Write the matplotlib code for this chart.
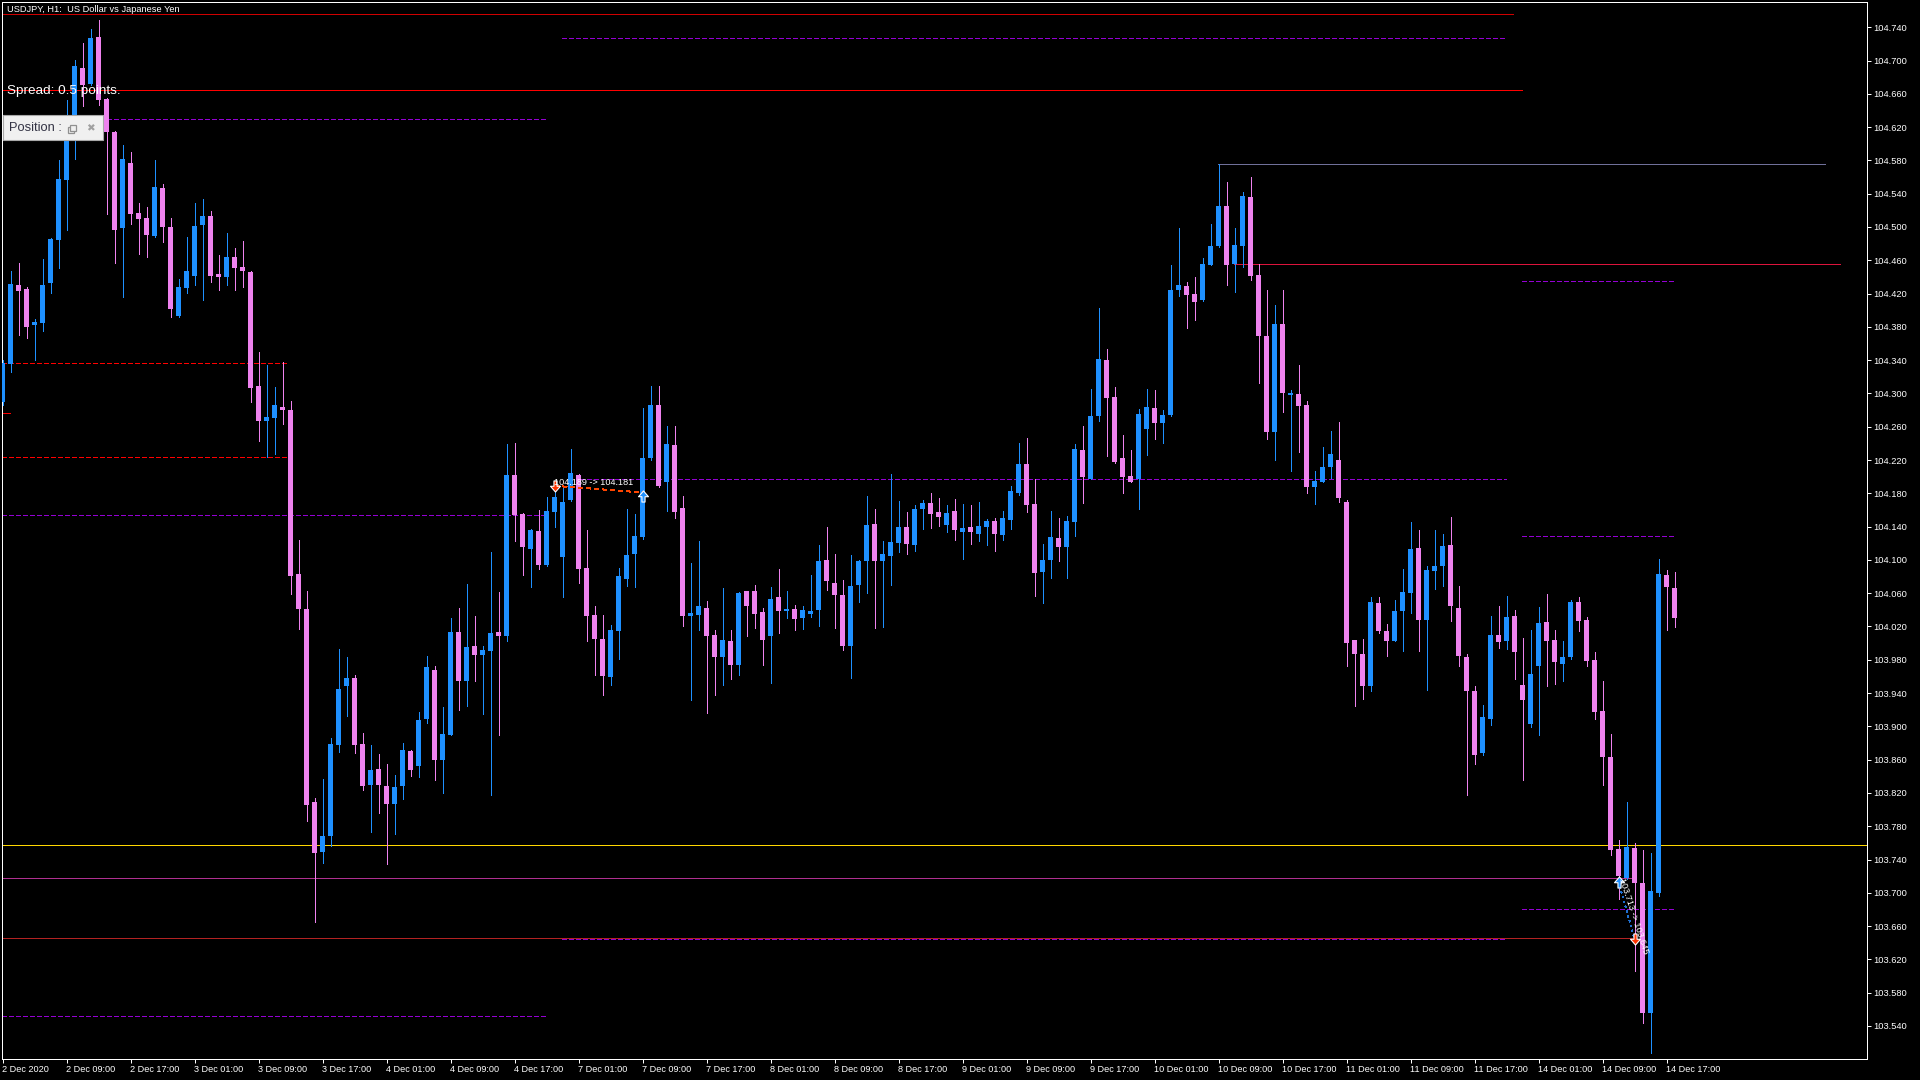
import matplotlib
matplotlib.use('Agg')
import matplotlib.pyplot as plt
from matplotlib import font_manager
from matplotlib.patches import Rectangle
from matplotlib.path import Path
import numpy as np

# ---------------- data ----------------
opens = [104.290, 104.335, 104.430, 104.425, 104.382, 104.385, 104.433, 104.484, 104.556, 104.619,
         104.691, 104.672, 104.728, 104.654, 104.614, 104.499, 104.577, 104.517, 104.511, 104.489,
         104.547, 104.500, 104.393, 104.427, 104.441, 104.502, 104.513, 104.443, 104.440, 104.464,
         104.452, 104.446, 104.309, 104.267, 104.270, 104.284, 104.280, 104.083, 104.041, 103.809,
         103.749, 103.768, 103.878, 103.948, 103.958, 103.879, 103.830, 103.849, 103.828, 103.807,
         103.828, 103.870, 103.852, 103.909, 103.968, 103.860, 103.890, 104.013, 103.955, 103.997,
         103.986, 103.991, 104.013, 104.009, 104.202, 104.155, 104.113, 104.135, 104.094, 104.158,
         104.103, 104.172, 104.202, 104.090, 104.034, 104.005, 103.959, 104.015, 104.077, 104.107,
         104.128, 104.222, 104.286, 104.193, 104.238, 104.162, 104.033, 104.034, 104.042, 104.010,
         103.983, 104.003, 103.974, 104.063, 104.063, 104.037, 104.009, 104.055, 104.039, 104.041,
         104.030, 104.035, 104.040, 104.100, 104.072, 104.058, 103.997, 104.070, 104.099, 104.143,
         104.099, 104.105, 104.120, 104.139, 104.118, 104.161, 104.168, 104.157, 104.142, 104.159,
         104.134, 104.140, 104.131, 104.140, 104.147, 104.130, 104.148, 104.180, 104.215, 104.167,
         104.086, 104.100, 104.126, 104.115, 104.146, 104.232, 104.197, 104.273, 104.340, 104.296,
         104.222, 104.201, 104.197, 104.257, 104.283, 104.264, 104.274, 104.424, 104.429, 104.420,
         104.412, 104.454, 104.477, 104.525, 104.456, 104.477, 104.536, 104.442, 104.369, 104.254,
         104.384, 104.298, 104.299, 104.286, 104.188, 104.194, 104.212, 104.220, 104.170, 104.004,
         103.987, 103.948, 104.048, 104.015, 104.003, 104.039, 104.060, 104.114, 104.028, 104.087,
         104.093, 104.118, 104.042, 103.983, 103.942, 103.868, 103.909, 104.010, 104.002, 104.033,
         103.950, 103.903, 103.972, 104.025, 104.004, 103.975, 103.983, 104.049, 104.028, 103.980,
         103.918, 103.863, 103.753, 103.718, 103.754, 103.712, 103.556, 103.700, 104.082, 104.066]
highs = [104.340, 104.447, 104.457, 104.428, 104.389, 104.461, 104.487, 104.580, 104.653, 104.701,
         104.721, 104.738, 104.749, 104.655, 104.615, 104.598, 104.590, 104.529, 104.524, 104.580,
         104.552, 104.511, 104.437, 104.488, 104.529, 104.534, 104.519, 104.466, 104.493, 104.475,
         104.483, 104.447, 104.350, 104.334, 104.308, 104.338, 104.291, 104.124, 104.063, 103.814,
         103.837, 103.886, 103.993, 103.983, 103.962, 103.892, 103.878, 103.867, 103.855, 103.842,
         103.880, 103.871, 103.917, 103.985, 103.972, 103.923, 104.030, 104.042, 104.071, 104.033,
         103.997, 104.109, 104.061, 104.239, 104.240, 104.156, 104.137, 104.160, 104.176, 104.189,
         104.187, 104.233, 104.203, 104.136, 104.045, 104.034, 104.022, 104.090, 104.161, 104.155,
         104.282, 104.309, 104.309, 104.261, 104.261, 104.177, 104.096, 104.123, 104.051, 104.016,
         104.066, 104.016, 104.061, 104.063, 104.070, 104.042, 104.067, 104.089, 104.063, 104.046,
         104.045, 104.082, 104.118, 104.140, 104.107, 104.076, 104.106, 104.100, 104.177, 104.161,
         104.123, 104.203, 104.171, 104.158, 104.166, 104.172, 104.180, 104.174, 104.166, 104.173,
         104.167, 104.166, 104.170, 104.149, 104.150, 104.159, 104.189, 104.240, 104.246, 104.197,
         104.119, 104.159, 104.150, 104.153, 104.239, 104.261, 104.305, 104.403, 104.353, 104.308,
         104.250, 104.232, 104.281, 104.305, 104.304, 104.280, 104.454, 104.499, 104.434, 104.440,
         104.463, 104.504, 104.576, 104.554, 104.499, 104.542, 104.560, 104.456, 104.424, 104.406,
         104.424, 104.304, 104.334, 104.291, 104.207, 104.236, 104.255, 104.266, 104.172, 104.004,
         104.005, 104.055, 104.055, 104.023, 104.052, 104.089, 104.146, 104.136, 104.093, 104.136,
         104.131, 104.151, 104.069, 103.987, 103.948, 103.926, 104.033, 104.045, 104.057, 104.040,
         104.006, 104.016, 104.043, 104.059, 104.016, 104.003, 104.052, 104.055, 104.031, 103.989,
         103.954, 103.891, 103.764, 103.809, 103.760, 103.751, 103.748, 104.101, 104.088, 104.085]
lows = [104.286, 104.326, 104.370, 104.367, 104.340, 104.375, 104.421, 104.451, 104.496, 104.582,
        104.645, 104.670, 104.647, 104.515, 104.457, 104.416, 104.504, 104.467, 104.464, 104.488,
        104.482, 104.392, 104.392, 104.421, 104.430, 104.412, 104.434, 104.424, 104.430, 104.424,
        104.428, 104.290, 104.243, 104.224, 104.227, 104.263, 104.059, 104.017, 103.786, 103.665,
        103.736, 103.756, 103.869, 103.913, 103.868, 103.824, 103.773, 103.796, 103.735, 103.771,
        103.813, 103.840, 103.839, 103.904, 103.836, 103.820, 103.889, 103.920, 103.925, 103.954,
        103.915, 103.818, 103.890, 104.002, 104.123, 104.082, 104.067, 104.089, 104.093, 104.140,
        104.055, 104.171, 104.072, 104.003, 103.962, 103.938, 103.950, 103.981, 104.069, 104.067,
        104.125, 104.220, 104.188, 104.159, 104.150, 104.020, 103.932, 104.016, 103.916, 103.938,
        103.950, 103.957, 103.962, 104.009, 104.018, 103.974, 103.952, 104.012, 104.030, 104.016,
        104.017, 104.031, 104.021, 104.064, 104.018, 103.992, 103.958, 104.049, 104.060, 104.018,
        104.019, 104.070, 104.110, 104.107, 104.111, 104.137, 104.138, 104.141, 104.134, 104.124,
        104.101, 104.119, 104.123, 104.118, 104.111, 104.124, 104.137, 104.178, 104.158, 104.057,
        104.048, 104.078, 104.099, 104.078, 104.129, 104.168, 104.197, 104.267, 104.225, 104.217,
        104.180, 104.194, 104.161, 104.226, 104.245, 104.240, 104.273, 104.417, 104.379, 104.388,
        104.411, 104.454, 104.476, 104.430, 104.422, 104.452, 104.436, 104.312, 104.245, 104.220,
        104.278, 104.207, 104.230, 104.180, 104.167, 104.194, 104.198, 104.169, 103.972, 103.924,
        103.933, 103.943, 104.012, 103.985, 104.002, 103.991, 104.036, 103.991, 103.944, 104.065,
        104.069, 104.026, 103.972, 103.818, 103.855, 103.866, 103.902, 103.994, 103.993, 103.957,
        103.836, 103.899, 103.889, 103.949, 103.951, 103.955, 103.981, 104.015, 103.972, 103.909,
        103.830, 103.746, 103.692, 103.717, 103.606, 103.543, 103.508, 103.696, 104.016, 104.019]
closes = [104.337, 104.431, 104.423, 104.380, 104.386, 104.430, 104.486, 104.558, 104.619, 104.693,
          104.671, 104.727, 104.653, 104.614, 104.496, 104.582, 104.516, 104.510, 104.490, 104.548,
          104.500, 104.401, 104.428, 104.447, 104.501, 104.513, 104.441, 104.440, 104.464, 104.451,
          104.447, 104.307, 104.267, 104.272, 104.286, 104.280, 104.081, 104.041, 103.806, 103.748,
          103.768, 103.879, 103.945, 103.958, 103.878, 103.828, 103.848, 103.830, 103.807, 103.827,
          103.872, 103.848, 103.908, 103.971, 103.860, 103.891, 104.013, 103.955, 103.995, 103.986,
          103.992, 104.012, 104.009, 104.202, 104.154, 104.115, 104.136, 104.094, 104.159, 104.176,
          104.169, 104.204, 104.089, 104.033, 104.005, 103.961, 104.016, 104.081, 104.106, 104.129,
          104.222, 104.286, 104.189, 104.239, 104.158, 104.033, 104.036, 104.045, 104.009, 103.983,
          104.004, 103.974, 104.060, 104.045, 104.035, 104.004, 104.053, 104.039, 104.041, 104.029,
          104.040, 104.039, 104.099, 104.075, 104.058, 103.997, 104.069, 104.099, 104.142, 104.099,
          104.107, 104.121, 104.139, 104.119, 104.161, 104.168, 104.155, 104.151, 104.156, 104.136,
          104.138, 104.134, 104.141, 104.147, 104.131, 104.150, 104.183, 104.215, 104.166, 104.084,
          104.100, 104.128, 104.116, 104.147, 104.233, 104.199, 104.273, 104.341, 104.295, 104.218,
          104.199, 104.194, 104.275, 104.284, 104.264, 104.274, 104.424, 104.430, 104.418, 104.410,
          104.456, 104.477, 104.525, 104.454, 104.478, 104.537, 104.441, 104.369, 104.254, 104.384,
          104.300, 104.300, 104.285, 104.188, 104.195, 104.212, 104.227, 104.174, 104.000, 103.987,
          103.949, 104.049, 104.015, 104.003, 104.039, 104.062, 104.113, 104.028, 104.088, 104.093,
          104.117, 104.044, 103.984, 103.942, 103.866, 103.911, 104.010, 104.001, 104.031, 103.989,
          103.932, 103.963, 104.024, 104.002, 103.977, 103.983, 104.049, 104.027, 103.979, 103.917,
          103.863, 103.751, 103.720, 103.755, 103.712, 103.556, 103.702, 104.083, 104.067, 104.030]

time_labels = ["2 Dec 2020", "2 Dec 09:00", "2 Dec 17:00", "3 Dec 01:00", "3 Dec 09:00",
               "3 Dec 17:00", "4 Dec 01:00", "4 Dec 09:00", "4 Dec 17:00", "7 Dec 01:00",
               "7 Dec 09:00", "7 Dec 17:00", "8 Dec 01:00", "8 Dec 09:00", "8 Dec 17:00",
               "9 Dec 01:00", "9 Dec 09:00", "9 Dec 17:00", "10 Dec 01:00", "10 Dec 09:00",
               "10 Dec 17:00", "11 Dec 01:00", "11 Dec 09:00", "11 Dec 17:00", "14 Dec 01:00",
               "14 Dec 09:00", "14 Dec 17:00"]
price_ticks = [103.540, 103.580, 103.620, 103.660, 103.700, 103.740, 103.780, 103.820,
               103.860, 103.900, 103.940, 103.980, 104.020, 104.060, 104.100, 104.140,
               104.180, 104.220, 104.260, 104.300, 104.340, 104.380, 104.420, 104.460,
               104.500, 104.540, 104.580, 104.620, 104.660, 104.700, 104.740]

# horizontal levels
level_prices = [104.756, 104.664, 104.727, 104.630, 104.337, 104.277, 104.224, 104.154,
                104.197, 104.576, 104.456, 104.435, 104.129, 103.757, 103.718, 103.646,
                103.645, 103.681, 103.552]

trade1_prices = [104.189, 104.181]
trade1_bars = [69, 80]
trade1_text = "104.189 -> 104.181"
trade2_prices = [103.713, 103.645]
trade2_bars = [202, 204]
trade2_text = "103.713 -> 103.645"

title_text = "USDJPY, H1:  US Dollar vs Japanese Yen"
spread_text = "Spread: 0.5 points."

# ---------------- style ----------------
avail = {f.name for f in font_manager.fontManager.ttflist}
SANS = 'Liberation Sans' if 'Liberation Sans' in avail else 'DejaVu Sans'
plt.rcParams['font.family'] = [SANS, 'DejaVu Sans']
plt.rcParams['lines.scale_dashes'] = False

BULL = '#1E90FF'
BEAR = '#EE82EE'
RED = '#FF0000'
PURPLE = '#9400D3'
DASH = (0, (2.9, 1.45))
PX = 0.72  # one pixel in points

W, H = 1920, 1080
fig = plt.figure(figsize=(19.2, 10.8), dpi=100, facecolor='black')
L, R, T, B = 2, 1867, 2, 1059
ax = fig.add_axes([L / W, (H - B) / H, (R - L) / W, (B - T) / H])
ax.set_facecolor('black')

bar_px = 8.0
x0 = 2.5
xmin = (L - x0) / bar_px
xmax = (R - x0) / bar_px
ax.set_xlim(xmin, xmax)
ymin, ymax = 103.5003, 104.7703
ax.set_ylim(ymin, ymax)
px_price = (ymax - ymin) / (B - T)

def bx(px):
    return (px - x0) / bar_px

# level lines: (index into level_prices, x start px, x end px, color, style)
level_style = [
    (0, L, 1513, '#D00000', '-'),
    (1, L, 1522, RED, '-'),
    (2, 562, 1506, PURPLE, DASH),
    (3, L, 546, PURPLE, DASH),
    (4, L, 287, RED, DASH),
    (5, L, 10, RED, '-'),
    (6, L, 287, RED, DASH),
    (7, L, 543, PURPLE, DASH),
    (8, 580, 1506, PURPLE, DASH),
    (9, 1218, 1825, '#70709A', '-'),
    (10, 1234, 1840, '#DC143C', '-'),
    (11, 1522, 1674, PURPLE, DASH),
    (12, 1522, 1674, PURPLE, DASH),
    (13, L, R, '#FFD700', '-'),
    (14, L, 1633, '#B03090', '-'),
    (15, L, 1632, '#B22222', '-'),
    (16, 562, 1506, PURPLE, DASH),
    (17, 1522, 1674, PURPLE, DASH),
    (18, L, 546, PURPLE, DASH),
]
for i, xs, xe, col, ls in level_style:
    ax.plot([bx(xs), bx(xe)], [level_prices[i], level_prices[i]], color=col,
            linestyle=ls, linewidth=PX, zorder=1, solid_capstyle='butt',
            antialiased=False)

# candles
o = np.array(opens); h = np.array(highs); lo = np.array(lows); c = np.array(closes)
idx = np.arange(len(o))
cols = [BULL if cc >= oo else BEAR for oo, cc in zip(o, c)]
ax.vlines(idx, lo, h, colors=cols, linewidth=PX, antialiased=False, zorder=3)
bottoms = np.minimum(o, c)
heights = np.maximum(np.abs(c - o), px_price)
ax.bar(idx, heights, bottom=bottoms, width=5 / bar_px, color=cols, linewidth=0,
       antialiased=False, zorder=4)

# trade arrows
down_arrow = Path([(-0.14, 0.5), (0.14, 0.5), (0.14, 0.02), (0.45, 0.02), (0, -0.5),
                   (-0.45, 0.02), (-0.14, 0.02), (-0.14, 0.5)], closed=True)
up_arrow = Path([(-0.14, -0.5), (0.14, -0.5), (0.14, -0.02), (0.45, -0.02), (0, 0.5),
                 (-0.45, -0.02), (-0.14, -0.02), (-0.14, -0.5)], closed=True)

ax.plot(trade1_bars, trade1_prices, color='#FF4500', linestyle=(0, (2.9, 2.2)),
        linewidth=PX, zorder=5, antialiased=False)
ax.plot([trade1_bars[0]], [trade1_prices[0]], marker=down_arrow, markersize=8,
        markerfacecolor='#FF3300', markeredgecolor='white', markeredgewidth=0.8, zorder=7)
ax.plot([trade1_bars[1]], [trade1_prices[1] - 0.004], marker=up_arrow, markersize=8,
        markerfacecolor=BULL, markeredgecolor='white', markeredgewidth=0.8, zorder=7)
ax.text(trade1_bars[0], trade1_prices[0] - 0.002, trade1_text, color='white', fontsize=6.6,
        ha='left', va='bottom', zorder=8)

ax.plot(trade2_bars, trade2_prices, color='#1E6FD0', linestyle=(0, (1.4, 2.2)),
        linewidth=PX, zorder=5, antialiased=False)
ax.plot([trade2_bars[0]], [trade2_prices[0]], marker=up_arrow, markersize=8,
        markerfacecolor=BULL, markeredgecolor='white', markeredgewidth=0.8, zorder=7)
ax.plot([trade2_bars[1]], [trade2_prices[1]], marker=down_arrow, markersize=8,
        markerfacecolor='#FF3300', markeredgecolor='white', markeredgewidth=0.8, zorder=7)
ax.text(trade2_bars[0] + 0.4, trade2_prices[0] + 0.004, trade2_text, color='white',
        fontsize=6.6, rotation=-72, rotation_mode='anchor', ha='left', va='center', zorder=8)

# axes styling
for s in ax.spines.values():
    s.set_color('white')
    s.set_linewidth(PX)
ax.yaxis.tick_right()
ax.set_yticks(price_ticks)
ax.set_yticklabels([f'{v:.3f}' for v in price_ticks])
ax.set_xticks(np.arange(0, 8 * len(time_labels), 8))
ax.set_xticklabels(time_labels)
ax.tick_params(axis='y', colors='white', length=3, width=PX, pad=1.5, labelsize=6.7,
               direction='out')
ax.tick_params(axis='x', colors='white', length=3.2, width=PX, pad=1.2, labelsize=6.6,
               direction='out')
for lab in ax.get_xticklabels():
    lab.set_horizontalalignment('left')

# overlay texts
def fxy(px, py):
    return px / W, 1 - py / H

fig.text(*fxy(7, 9), title_text, color='white', fontsize=6.7, ha='left', va='center')
fig.text(*fxy(7, 91), spread_text, color='white', fontsize=9.7, ha='left', va='center',
         zorder=10)

# Position panel
bx0, by0, bw, bh = 2.5, 115, 100, 25
fig.patches.append(Rectangle(fxy(bx0, by0 + bh), bw / W, bh / H, transform=fig.transFigure,
                             facecolor='#F0F0F0', edgecolor='#A8A8A8', linewidth=0.8, zorder=20))
fig.text(*fxy(9, 128), "Position :", color='#333344', fontsize=9.3, ha='left', va='center',
         zorder=21)
fig.patches.append(Rectangle(fxy(68, 133), 6 / W, 6 / H, transform=fig.transFigure,
                             facecolor='none', edgecolor='#909090', linewidth=0.9, zorder=21))
fig.patches.append(Rectangle(fxy(70, 131), 6 / W, 6 / H, transform=fig.transFigure,
                             facecolor='#F0F0F0', edgecolor='#909090', linewidth=0.9, zorder=22))
fig.text(*fxy(90, 128), "\u2716", color='#A0A0A0', fontsize=7.5, ha='center', va='center',
         zorder=21, family='DejaVu Sans')

fig.savefig('out.png', dpi=100, facecolor='black')
